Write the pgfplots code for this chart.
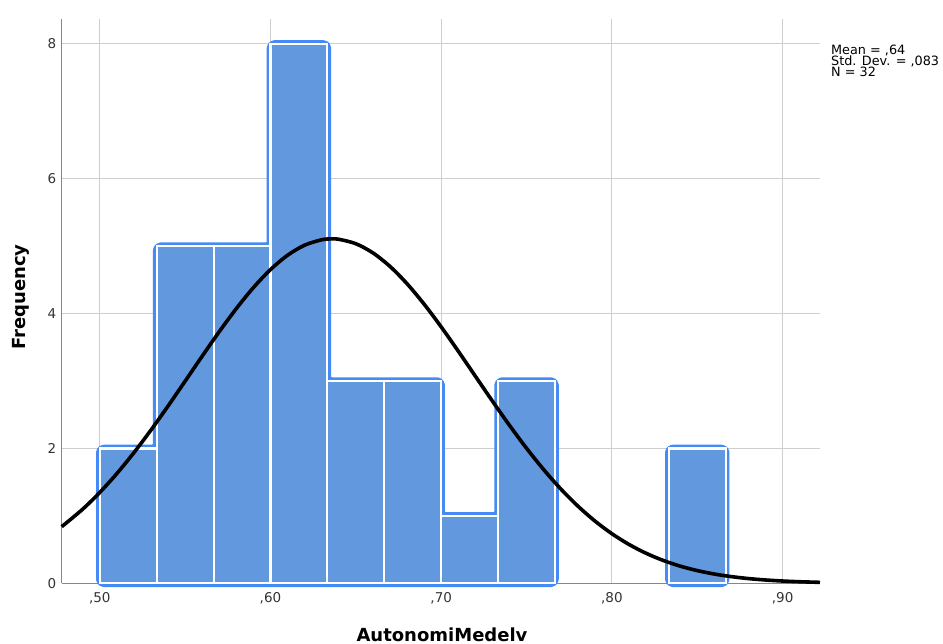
\documentclass[border=0pt]{standalone}
\usepackage{pgfplots}
\pgfplotsset{compat=1.18}
\usepackage{fontspec}
\setmainfont{DejaVu Sans}
\definecolor{barfill}{RGB}{97,152,222}
\definecolor{barline}{RGB}{70,138,245}
\definecolor{axline}{RGB}{135,135,135}
\definecolor{gridc}{RGB}{206,206,206}
\definecolor{ticktext}{RGB}{51,51,51}
\begin{document}
\begin{tikzpicture}
\path[use as bounding box] (0,0) rectangle (943pt,644pt);
\clip (0,0) rectangle (943pt,644pt);
\begin{axis}[
  at={(61.7pt,60.7pt)}, anchor=south west,
  scale only axis, width=758.3pt, height=564.3pt,
  xmin=0.4777, xmax=0.9219, ymin=0, ymax=8.37,
  clip=false,
  axis x line=bottom, axis y line=left,
  axis line style={-, draw=axline, line width=1.3pt},
  major tick length=0pt,
  grid=major,
  major grid style={draw=gridc, line width=1.1pt},
  xtick={0.5,0.6,0.7,0.8,0.9},
  xticklabels={{,50},{,60},{,70},{,80},{,90}},
  ytick={0,2,4,6,8},
  yticklabels={0,2,4,6,8},
  tick label style={font=\fontsize{13.5}{16}\selectfont, text=ticktext},
  xticklabel style={yshift=-6pt},
  yticklabel style={xshift=-2pt},
  xlabel={AutonomiMedelv},
  ylabel={Frequency},
  every axis x label/.style={at={(axis description cs:0.5015,-0.1031)}, anchor=base, font=\fontsize{18}{21}\selectfont\bfseries},
  every axis y label/.style={at={(axis description cs:-0.0537,0.507)}, rotate=90, anchor=center, font=\fontsize{18}{21}\selectfont\bfseries},
]
% outer blue outline of the histogram silhouette
\addplot[draw=barline, fill=barfill, line width=7.5pt, rounded corners=4pt, line join=round] coordinates {
 (0.50000,0) (0.50000,2) (0.53333,2) (0.53333,5) (0.60000,5) (0.60000,8) (0.63333,8)
 (0.63333,3) (0.70000,3) (0.70000,1) (0.73333,1) (0.73333,3) (0.76667,3) (0.76667,0)
} -- cycle;
\addplot[draw=barline, fill=barfill, line width=7.5pt, rounded corners=4pt, line join=round] coordinates {
 (0.83333,0) (0.83333,2) (0.86667,2) (0.86667,0)
} -- cycle;
% bars with white separators
\addplot[ybar interval, fill=barfill, draw=white, line width=2.1pt] coordinates {
 (0.50000,2) (0.53333,5) (0.56667,5) (0.60000,8) (0.63333,3) (0.66667,3) (0.70000,1) (0.73333,3) (0.76667,0)
};
\addplot[ybar interval, fill=barfill, draw=white, line width=2.1pt] coordinates {
 (0.83333,2) (0.86667,0)
};
% normal curve
\addplot[black, line width=3.6pt, smooth] coordinates {
 (0.4777,0.8396) (0.49,1.0996) (0.50,1.3475) (0.51,1.6273) (0.52,1.9374) (0.53,2.2733)
 (0.54,2.6296) (0.55,2.9981) (0.56,3.3693) (0.57,3.7325) (0.58,4.0753) (0.59,4.3861)
 (0.60,4.6530) (0.61,4.8657) (0.62,5.0151) (0.63,5.0953) (0.636,5.1085) (0.64,5.1026)
 (0.65,5.0369) (0.66,4.9008) (0.67,4.7002) (0.68,4.4433) (0.69,4.1403) (0.70,3.8030)
 (0.71,3.4430) (0.72,3.0725) (0.73,2.7026) (0.74,2.3433) (0.75,2.0026) (0.76,1.6871)
 (0.77,1.4008) (0.78,1.1466) (0.79,0.9249) (0.80,0.7354) (0.81,0.5764) (0.82,0.4456)
 (0.83,0.3393) (0.84,0.2547) (0.85,0.1885) (0.86,0.1375) (0.87,0.0988) (0.88,0.0700)
 (0.89,0.0489) (0.90,0.0337) (0.91,0.0228) (0.9219,0.0141)
};
\node[anchor=base west, inner sep=0pt, font=\fontsize{12.8}{15}\selectfont] at (axis description cs:1.0145,0.9362) {Mean = ,64};
\node[anchor=base west, inner sep=0pt, font=\fontsize{12.8}{15}\selectfont] at (axis description cs:1.0145,0.9167) {Std. Dev. = ,083};
\node[anchor=base west, inner sep=0pt, font=\fontsize{12.8}{15}\selectfont] at (axis description cs:1.0145,0.8972) {N = 32};
\end{axis}
\end{tikzpicture}
\end{document}
